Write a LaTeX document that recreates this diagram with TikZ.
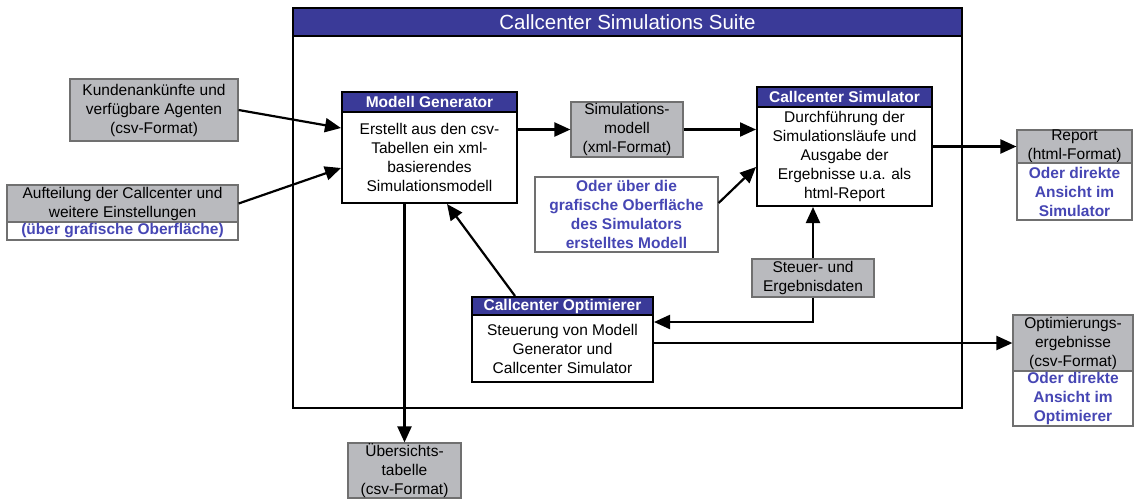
\documentclass[tikz,border=0pt]{standalone}
\usepackage{fontspec}
\setmainfont{Liberation Sans}
\usetikzlibrary{arrows.meta}
\definecolor{hdrblue}{HTML}{3A3A98}
\definecolor{boxgray}{HTML}{B9BABE}
\definecolor{edgegray}{HTML}{707070}
\definecolor{txtblue}{HTML}{4646B4}
\newcommand{\bodyfont}{\fontsize{15.5}{19}\selectfont}
\newcommand{\titlefont}{\fontsize{20.5}{24}\selectfont}
\tikzset{
  base/.style={inner sep=0pt, align=center, font=\bodyfont},
  graybox/.style={base, draw=edgegray, fill=boxgray, line width=1.2pt},
  notebox/.style={base, draw=edgegray, fill=white, line width=1.2pt, text=txtblue, font=\bodyfont\bfseries},
  hdr/.style={base, draw=black, fill=hdrblue, line width=2pt, text=white, font=\bodyfont\bfseries},
  body/.style={base, draw=black, fill=white, line width=2pt},
  arr/.style={line width=2.2pt, -{Triangle[length=16pt,width=14pt]}}
}
\begin{document}
\begin{tikzpicture}[x=1pt,y=-1pt]
\useasboundingbox[fill=white] (0,0) rectangle (1134,501);

% suite frame with title bar
\node[draw=black, line width=2.2pt, minimum width=669pt, minimum height=400pt, inner sep=0pt] (suite) at (627.5,208) {};
\node[draw=black, fill=hdrblue, line width=2.2pt, minimum width=669pt, minimum height=28pt, inner sep=0pt, text=white, font=\titlefont] (suitetitle) at (627.5,22) {Callcenter Simulations Suite};

% inputs
\node[graybox, minimum width=168pt, minimum height=62pt] (in1) at (154,110) {Kundenankünfte und\\verfügbare Agenten\\(csv-Format)};
\node[graybox, minimum width=231pt, minimum height=37pt] (in2) at (122.5,203.5) {Aufteilung der Callcenter und\\weitere Einstellungen};
\node[notebox, minimum width=231pt, minimum height=18pt] (in2note) at (122.5,231) {(über grafische Oberfläche)};

% Modell Generator
\node[hdr, minimum width=175pt, minimum height=20pt] (mghdr) at (429.5,102) {Modell Generator};
\node[body, minimum width=175pt, minimum height=91pt] (mgbody) at (429.5,157.5) {Erstellt aus den csv-\\Tabellen ein xml-\\basierendes\\Simulationsmodell};

% simulation model
\node[graybox, minimum width=112pt, minimum height=55pt] (sim) at (627,129.5) {Simulations-\\modell\\(xml-Format)};
\node[notebox, minimum width=183pt, minimum height=75pt] (gui) at (626.5,214.5) {Oder über die\\grafische Oberfläche\\des Simulators\\erstelltes Modell};

% Callcenter Simulator
\node[hdr, minimum width=175pt, minimum height=20pt] (cshdr) at (844.5,97) {Callcenter Simulator};
\node[body, minimum width=175pt, minimum height=99pt] (csbody) at (844.5,156.5) {Durchführung der\\Simulationsläufe und\\Ausgabe der\\Ergebnisse u.a. als\\html-Report};

% report
\node[graybox, minimum width=115pt, minimum height=33pt] (report) at (1074.5,146.5) {Report\\(html-Format)};
\node[notebox, minimum width=115pt, minimum height=57pt] (reportnote) at (1074.5,191.5) {Oder direkte\\Ansicht im\\Simulator};

% control data
\node[graybox, minimum width=122pt, minimum height=38pt] (steuer) at (813,278) {Steuer- und\\Ergebnisdaten};

% Callcenter Optimierer
\node[hdr, minimum width=181pt, minimum height=18pt] (opthdr) at (562.5,306) {Callcenter Optimierer};
\node[body, minimum width=181pt, minimum height=67pt] (optbody) at (562.5,348.5) {Steuerung von Modell\\Generator und\\Callcenter Simulator};

% optimisation results
\node[graybox, minimum width=120pt, minimum height=56pt] (optres) at (1073,343) {Optimierungs-\\ergebnisse\\(csv-Format)};
\node[notebox, minimum width=120pt, minimum height=55pt] (optresnote) at (1073,398.5) {Oder direkte\\Ansicht im\\Optimierer};

% overview table
\node[graybox, minimum width=113pt, minimum height=55pt] (ueb) at (404.5,470.5) {Übersichts-\\tabelle\\(csv-Format)};

% connectors
\draw[arr] (in1.east) -- ([yshift=29.5pt]mgbody.west);
\draw[arr] (in2.east) -- ([yshift=-10.5pt]mgbody.west);
\draw[arr] (sim.west -| mgbody.east) -- (sim.west);
\draw[arr] (sim.east) -- (sim.east -| csbody.west);
\draw[arr] ([yshift=11.5pt]gui.east) -- ([yshift=-10.5pt]csbody.west);
\draw[arr] (report.west -| csbody.east) -- (report.west);
\draw[arr] (ueb.north |- mgbody.south) -- (ueb.north);
\draw[arr] ([xshift=-47.5pt]opthdr.north) -- ([xshift=17.5pt]mgbody.south);
\draw[arr] (steuer.north) -- (steuer.north |- csbody.south);
\draw[arr] (steuer.south) |- ([yshift=26.5pt]optbody.east);
\draw[arr] (optres.west -| optbody.east) -- (optres.west);
\end{tikzpicture}
\end{document}
